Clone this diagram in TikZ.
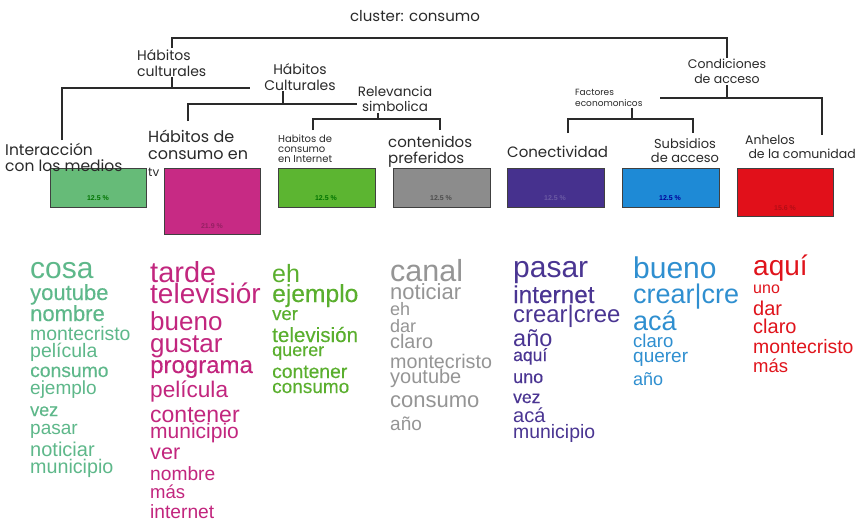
\documentclass[tikz,border=0pt]{standalone}
\usepackage{fontspec}
\setmainfont{Liberation Sans}
\newfontfamily\semib[FakeBold=0.2]{Liberation Sans}
\newfontfamily\labfont{Poppins}
\newcommand\myfs[1]{\fontsize{#1}{#1}\selectfont}
\newcommand\labf[2]{\labfont\fontsize{#1}{#2}\selectfont}
\newcommand\wrd[6]{\node[word,font=#5\myfs{#4}] (#1) at (#2,#3) {#6};}
\definecolor{cA}{HTML}{5EB88A}
\definecolor{cB}{HTML}{C2267E}
\definecolor{cC}{HTML}{5AAF2E}
\definecolor{cD}{HTML}{959595}
\definecolor{cDd}{HTML}{7D7D7D}
\definecolor{cE}{HTML}{4A3592}
\definecolor{cF}{HTML}{2F8FD0}
\definecolor{cG}{HTML}{E0141C}
\definecolor{bx1}{HTML}{66BB78}
\definecolor{bx2}{HTML}{C72A84}
\definecolor{bx3}{HTML}{5CB531}
\definecolor{bx4}{HTML}{8C8C8C}
\definecolor{bx5}{HTML}{46318E}
\definecolor{bx6}{HTML}{1E8AD6}
\definecolor{bx7}{HTML}{E1101A}
\definecolor{ink}{HTML}{2A2A2A}
\tikzset{
  word/.style={anchor=base west,inner sep=0pt},
  tree/.style={draw=ink,line width=1.3pt},
  box/.style={draw=black!75,line width=1.2pt,anchor=north west,inner sep=0pt},
  pct/.style={font=\myfs{7}\bfseries,inner sep=0pt},
  lab/.style={text=ink,inner sep=1pt}
}
\begin{document}
\begin{tikzpicture}[x=1pt,y=-1pt]
\useasboundingbox[fill=white] (0,0) rectangle (865,523);

% ---- tree labels
\node[lab,font=\labf{15}{17}] (title) at (415,16) {cluster: consumo};
\node[lab,font=\labf{14}{16},align=left,anchor=north west] (hc1) at (136,48) {Hábitos\\culturales};
\node[lab,font=\labf{14}{16},align=center,anchor=north] (hc2) at (300,62) {Hábitos\\Culturales};
\node[lab,font=\labf{13.5}{15},align=center,anchor=north] (rs) at (395,85) {Relevancia\\simbolica};
\node[lab,font=\labf{12.5}{15},align=center,anchor=north] (ca) at (727,58) {Condiciones\\de acceso};
\node[lab,font=\labf{9}{11},align=left,anchor=north west] (fe) at (574,88) {Factores\\economonicos};

% ---- boxes
\node[box,fill=bx1,minimum width=96pt,minimum height=39pt] (b1) at (50,168) {};
\node[box,fill=bx2,minimum width=96pt,minimum height=66pt] (b2) at (164,168) {};
\node[box,fill=bx3,minimum width=97pt,minimum height=39pt] (b3) at (278,168) {};
\node[box,fill=bx4,minimum width=97pt,minimum height=39pt] (b4) at (393,168) {};
\node[box,fill=bx5,minimum width=97pt,minimum height=39pt] (b5) at (507,168) {};
\node[box,fill=bx6,minimum width=97pt,minimum height=39pt] (b6) at (622,168) {};
\node[box,fill=bx7,minimum width=96pt,minimum height=48pt] (b7) at (737,168) {};

\node[pct,text=green!45!black] (p1) at (98,198) {12.5 \%};
\node[pct,text=bx2!75!black] (p2) at (212,226) {21.9 \%};
\node[pct,text=green!45!black] (p3) at (326,198) {12.5 \%};
\node[pct,text=black!70] (p4) at (441,198) {12.5 \%};
\node[pct,text=bx5!80!white] (p5) at (555,198) {12.5 \%};
\node[pct,text=blue!60!black] (p6) at (670,198) {12.5 \%};
\node[pct,text=bx7!80!black] (p7) at (785,208) {15.6 \%};

% ---- category labels
\node[lab,font=\labf{15.5}{16},align=left,anchor=north west] (im) at (4,142) {Interacción\\con los medios};
\node[lab,font=\labf{16}{17},align=left,anchor=north west] (tv) at (147,129) {Hábitos de\\consumo en\\{\labf{12}{12}tv}};
\node[lab,font=\labf{10}{10},align=left,anchor=north west] (hi) at (277,134) {Habitos de\\consumo\\en Internet};
\node[lab,font=\labf{15}{16},align=left,anchor=north west] (cp) at (387,135) {contenidos\\preferidos};
\node[lab,font=\labf{15}{16},anchor=west] (cn) at (506,152) {Conectividad};
\node[lab,font=\labf{13}{14},align=center,anchor=north] (sa) at (685,137) {Subsidios\\de acceso};
\node[lab,font=\labf{12.5}{14},align=left,anchor=north west] (ah) at (744,134) {Anhelos\\\ de la comunidad};

% ---- tree connectors
\coordinate (a1) at (172,38); \coordinate (a2) at (727,38);
\draw[tree] (hc1.north -| a1) -- (a1) -- (a2) -- (ca.north -| a2);
\coordinate (b1j) at (62,88); \coordinate (b2j) at (250,88);
\draw[tree] (hc1.south -| a1) -- (a1 |- b1j);
\coordinate (imt) at (62,140);
\draw[tree] (imt) -- (b1j) -- (b2j);
\coordinate (c0) at (283,104); \coordinate (c1) at (188,104); \coordinate (c2) at (357,104); \coordinate (c1d) at (188,121);
\draw[tree] (hc2.south -| c0) -- (c0);
\draw[tree] (c1d) -- (c1) -- (c2);
\coordinate (d0) at (378,119); \coordinate (d1) at (313,119); \coordinate (d2) at (440,119);
\coordinate (d1d) at (313,130); \coordinate (d2d) at (440,130);
\draw[tree] (rs.south -| d0) -- (d0);
\draw[tree] (d1d) -- (d1) -- (d2) -- (d2d);
\coordinate (e0) at (727,98); \coordinate (e1) at (660,98); \coordinate (e2) at (822,98); \coordinate (e2d) at (822,135);
\draw[tree] (ca.south -| e0) -- (e0);
\draw[tree] (e1) -- (e2) -- (e2d);
\coordinate (f0) at (632,119); \coordinate (f1) at (568,119); \coordinate (f2) at (693,119);
\coordinate (f1d) at (568,133); \coordinate (f2d) at (693,133);
\draw[tree] (fe.south -| f0) -- (f0);
\draw[tree] (f1d) -- (f1) -- (f2) -- (f2d);

% ---- word lists
\begin{scope}[text=cA]
\wrd{w11}{30}{278}{30}{}{cosa}
\wrd{w12}{30}{300}{22}{\semib}{youtube}
\wrd{w13}{30}{321}{22}{\semib}{nombre}
\wrd{w14}{30}{340}{19.4}{}{montecristo}
\wrd{w15}{30}{357}{19.5}{}{película}
\wrd{w16}{30}{377}{19.3}{\semib}{consumo}
\wrd{w17}{30}{394}{19}{}{ejemplo}
\wrd{w18}{30}{416}{18}{\semib}{vez}
\wrd{w19}{30}{434}{19}{}{pasar}
\wrd{w110}{30}{456}{20}{}{noticiar}
\wrd{w111}{30}{473}{19.7}{}{municipio}
\end{scope}
\begin{scope}[text=cB]
\wrd{w21}{150}{282}{29}{}{tarde}
\wrd{w22}{150}{303}{28}{}{televisiór}
\wrd{w23}{150}{330}{26}{}{bueno}
\wrd{w24}{150}{352}{26}{}{gustar}
\wrd{w25}{150}{373}{24}{\semib}{programa}
\wrd{w26}{150}{397}{22.6}{}{película}
\wrd{w27}{150}{422}{23}{}{contener}
\wrd{w28}{150}{438}{21}{}{municipio}
\wrd{w29}{150}{459}{21.6}{}{ver}
\wrd{w210}{150}{480}{19.2}{}{nombre}
\wrd{w211}{150}{498}{18.5}{}{más}
\wrd{w212}{150}{518}{19.2}{}{internet}
\end{scope}
\begin{scope}[text=cC]
\wrd{w31}{272}{282}{25}{}{eh}
\wrd{w32}{272}{302}{24.6}{\semib}{ejemplo}
\wrd{w33}{272}{320}{18.5}{\semib}{ver}
\wrd{w34}{272}{342}{20.6}{\semib}{televisión}
\wrd{w35}{272}{356}{18}{\semib}{querer}
\wrd{w36}{272}{378}{19.3}{\semib}{contener}
\wrd{w37}{272}{393}{19}{\semib}{consumo}
\end{scope}
\begin{scope}[text=cD]
\wrd{w41}{390}{281}{30.5}{\color{cDd}}{canal}
\wrd{w42}{390}{299}{22}{}{noticiar}
\wrd{w43}{390}{315}{18}{}{eh}
\wrd{w44}{390}{332}{18}{}{dar}
\wrd{w45}{390}{348}{19.8}{}{claro}
\wrd{w46}{390}{368}{19.7}{}{montecristo}
\wrd{w47}{390}{383}{20}{}{youtube}
\wrd{w48}{390}{407}{22}{}{consumo}
\wrd{w49}{390}{430}{19}{}{año}
\end{scope}
\begin{scope}[text=cE]
\wrd{w51}{513}{277}{30}{}{pasar}
\wrd{w52}{513}{303}{24.4}{\semib}{internet}
\wrd{w53}{513}{322}{23.9}{}{crear|cree}
\wrd{w54}{513}{346}{23.5}{}{año}
\wrd{w55}{513}{361}{17.5}{\semib}{aquí}
\wrd{w56}{513}{383}{18}{\semib}{uno}
\wrd{w57}{513}{403}{17.5}{\semib}{vez}
\wrd{w58}{513}{422}{20}{}{acá}
\wrd{w59}{513}{438}{19.4}{}{municipio}
\end{scope}
\begin{scope}[text=cF]
\wrd{w61}{633}{278}{30}{}{bueno}
\wrd{w62}{633}{303}{27}{}{crear|cre}
\wrd{w63}{633}{330}{27}{}{acá}
\wrd{w64}{633}{347}{18.5}{}{claro}
\wrd{w65}{633}{362}{19}{}{querer}
\wrd{w66}{633}{385}{18}{}{año}
\end{scope}
\begin{scope}[text=cG]
\wrd{w71}{753}{275}{28}{}{aquí}
\wrd{w72}{753}{293}{16}{}{uno}
\wrd{w73}{753}{315}{20}{}{dar}
\wrd{w74}{753}{333}{20}{}{claro}
\wrd{w75}{753}{353}{19.4}{}{montecristo}
\wrd{w76}{753}{372}{18.5}{}{más}
\end{scope}
\end{tikzpicture}
\end{document}
